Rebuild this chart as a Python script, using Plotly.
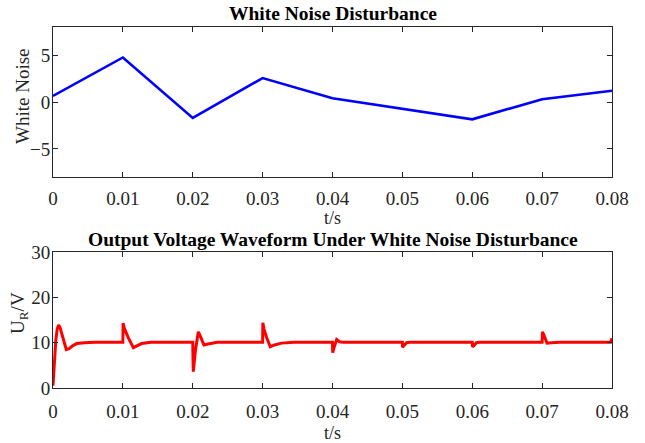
import plotly.graph_objects as go

# ---------------- data ----------------
noise_t = [0.00, 0.01, 0.02, 0.03, 0.04, 0.05, 0.06, 0.07, 0.08]
noise_v = [0.65, 4.75, -1.70, 2.55, 0.40, -0.72, -1.85, 0.30, 1.20]

out_t = [0.0000, 0.0002, 0.0004, 0.0006, 0.0008, 0.0010, 0.0014, 0.0019, 0.0023,
         0.0028, 0.0034, 0.0045, 0.0060,
         0.0100, 0.01003, 0.0102, 0.0108, 0.0115, 0.0120, 0.0127, 0.0140,
         0.0200, 0.02004, 0.02008, 0.0204, 0.0208, 0.0212, 0.0216, 0.0222, 0.0235,
         0.0300, 0.03003, 0.0302, 0.0306, 0.0311, 0.0317, 0.0327, 0.0345,
         0.0400, 0.04003, 0.04020, 0.04060, 0.04100, 0.0415,
         0.0500, 0.05003, 0.05020, 0.05060, 0.0510,
         0.0600, 0.06003, 0.06020, 0.06060, 0.0610,
         0.0700, 0.07004, 0.0703, 0.0707, 0.0713, 0.0725,
         0.0798, 0.0800]
out_v = [0.5, 6.0, 10.5, 13.0, 13.9, 13.4, 11.0, 8.5, 8.7,
         9.3, 9.8, 10.0, 10.1,
         10.1, 14.3, 13.2, 11.0, 8.9, 9.3, 9.8, 10.1,
         10.1, 6.0, 3.6, 8.5, 12.4, 11.0, 9.5, 9.7, 10.1,
         10.1, 14.4, 13.0, 11.0, 9.1, 9.5, 9.9, 10.1,
         10.1, 7.8, 8.8, 10.7, 10.2, 10.1,
         10.1, 9.0, 9.3, 10.0, 10.1,
         10.1, 9.1, 9.3, 10.0, 10.1,
         10.1, 12.4, 11.5, 9.9, 10.0, 10.1,
         10.1, 11.0]

x_ticks = [0, 0.01, 0.02, 0.03, 0.04, 0.05, 0.06, 0.07, 0.08]
x_ticklabels = ["0", "0.01", "0.02", "0.03", "0.04", "0.05", "0.06", "0.07", "0.08"]
y1_ticks = [-5, 0, 5]
y2_ticks = [0, 10, 20, 30]

title1 = "White Noise Disturbance"
title2 = "Output Voltage Waveform Under White Noise Disturbance"
xlabel = "t/s"
ylabel1 = "White Noise"
ylabel2 = "U<sub>R</sub>/V"

# ---------------- figure ----------------
FONT = "Times New Roman, Liberation Serif, serif"
AX = "#262626"
W, H = 645, 443
ML, MR, MT, MB = 53, 33, 27, 55
PH = H - MT - MB  # plot-area height in px
PW = W - ML - MR


def py(pix):
    """pixel row -> paper y"""
    return (H - MB - pix) / PH


def px(pix):
    """pixel column -> paper x"""
    return (pix - ML) / PW


fig = go.Figure()
fig.add_trace(go.Scatter(x=noise_t, y=noise_v, mode="lines",
                         line=dict(color="#0000ff", width=2.6),
                         xaxis="x", yaxis="y", showlegend=False))
fig.add_trace(go.Scatter(x=out_t, y=out_v, mode="lines",
                         line=dict(color="#ff0000", width=3),
                         xaxis="x2", yaxis="y2", showlegend=False))

common_x = dict(range=[0, 0.08], tickvals=x_ticks, ticktext=x_ticklabels,
                ticks="inside", ticklen=5, tickcolor=AX, tickwidth=1,
                showline=True, linecolor=AX, linewidth=1, mirror="ticks",
                showgrid=False, zeroline=False,
                tickfont=dict(family=FONT, size=19, color=AX))
common_y = dict(ticks="inside", ticklen=5, tickcolor=AX, tickwidth=1,
                showline=True, linecolor=AX, linewidth=1, mirror="ticks",
                showgrid=False, zeroline=False,
                tickfont=dict(family=FONT, size=19, color=AX),
                ticklabelstandoff=-2)

annots = [
    dict(text="<b>" + title1 + "</b>", x=0.5, y=py(14), yanchor="middle"),
    dict(text="<b>" + title2 + "</b>", x=0.5, y=py(240), yanchor="middle"),
    dict(text=xlabel, x=0.5, y=py(218), yanchor="middle"),
    dict(text=xlabel, x=0.5, y=py(433), yanchor="middle"),
    dict(text=ylabel1, x=px(23), y=py(96), yanchor="middle", textangle=-90),
    dict(text=ylabel2, x=px(19), y=py(313), yanchor="middle", textangle=-90),
]
annotations = []
for i, a in enumerate(annots):
    size = 19.5 if i < 2 else (18 if i < 4 else 19)
    color = "black" if i < 2 else AX
    a.update(xref="paper", yref="paper", xanchor="center", showarrow=False,
             font=dict(family=FONT, size=size, color=color))
    annotations.append(a)

fig.update_layout(
    width=W, height=H,
    margin=dict(l=ML, r=MR, t=MT, b=MB),
    paper_bgcolor="white", plot_bgcolor="white",
    xaxis=dict(**common_x, domain=[0, 1], anchor="y", ticklabelstandoff=4),
    yaxis=dict(**common_y, domain=[py(177), 1], anchor="x", range=[-8, 8], tickvals=y1_ticks),
    xaxis2=dict(**common_x, domain=[0, 1], anchor="y2", ticklabelstandoff=6),
    yaxis2=dict(**common_y, domain=[0, py(252)], anchor="x2", range=[0, 30], tickvals=y2_ticks),
    annotations=annotations,
)

fig.write_html("out.html")
